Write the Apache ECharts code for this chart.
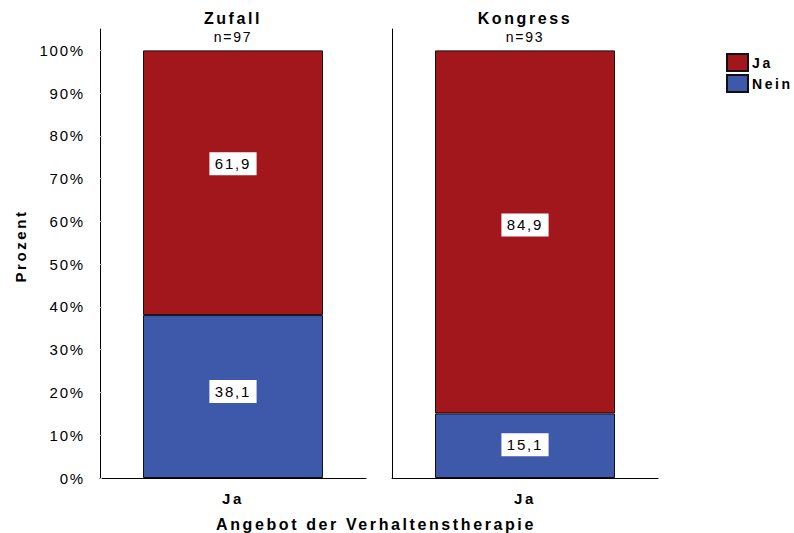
<!DOCTYPE html>
<html>
<head>
<meta charset="utf-8">
<script src="https://cdn.jsdelivr.net/npm/echarts@6/dist/echarts.min.js"></script>
<style>
  html, body { margin: 0; padding: 0; background: #fff; }
  #myEcharts { width: 794px; height: 533px; }
  /* the reference uses wide letter spacing everywhere */
  #myEcharts text { letter-spacing: 1.8px; }
  #myEcharts text[style*="bold"] { letter-spacing: 2.6px; }
</style>
</head>
<body>
<div id="myEcharts"></div>
<script>
// data
var panels = ['Zufall', 'Kongress'];
var panelN = ['n=97', 'n=93'];
var categories = ['Ja'];
var jaValues = [61.9, 84.9];
var neinValues = [38.1, 15.1];
var yTicks = [0, 10, 20, 30, 40, 50, 60, 70, 80, 90, 100];

var RED = '#a1171c';
var BLUE = '#3f59aa';
var FONT = '"Liberation Sans", Arial, sans-serif';

// label nudges seen in the reference (px)
var jaOffset = [-19, -7];
var neinOffset = [-5, -1];

var chartDom = document.getElementById('myEcharts');
var myChart = echarts.init(chartDom, null, { renderer: 'svg' });

var gridLeft = [100, 392];
var grid = [], xAxis = [], yAxis = [], series = [], title = [];

panels.forEach(function (name, idx) {
  grid.push({ left: gridLeft[idx], width: 266, top: 29, height: 449 });

  xAxis.push({
    type: 'category',
    data: categories,
    gridIndex: idx,
    axisLine: { lineStyle: { color: '#000', width: 1 } },
    axisTick: { show: false },
    axisLabel: { color: '#000', fontFamily: FONT, fontSize: 15, fontWeight: 'bold', margin: 13 }
  });

  yAxis.push({
    type: 'value',
    gridIndex: idx,
    min: 0,
    max: 105,
    interval: 10,
    splitLine: { show: false },
    axisLine: { show: true, lineStyle: { color: '#000', width: 1 } },
    axisTick: { show: idx === 0, inside: true, length: 2, lineStyle: { color: '#bbb' } },
    axisLabel: {
      show: idx === 0,
      showMaxLabel: false,
      color: '#000',
      fontFamily: FONT,
      fontSize: 15,
      margin: 15,
      formatter: function (v) { return yTicks.indexOf(v) >= 0 ? v + '%' : ''; }
    }
  });

  var labelBase = {
    show: true,
    position: 'inside',
    color: '#000',
    fontFamily: FONT,
    fontSize: 15,
    backgroundColor: '#fff',
    borderWidth: 0,
    textBorderWidth: 0,
    padding: [4, 9, 4, 9],
    formatter: function (p) { return p.value.toFixed(1).replace('.', ','); }
  };

  series.push({
    name: 'Nein',
    type: 'bar',
    stack: 's' + idx,
    xAxisIndex: idx,
    yAxisIndex: idx,
    barWidth: 180,
    itemStyle: { color: BLUE, borderColor: '#111', borderWidth: 1 },
    label: Object.assign({}, labelBase, { offset: [0, neinOffset[idx]] }),
    data: [neinValues[idx]]
  });
  series.push({
    name: 'Ja',
    type: 'bar',
    stack: 's' + idx,
    xAxisIndex: idx,
    yAxisIndex: idx,
    barWidth: 180,
    itemStyle: { color: RED, borderColor: '#111', borderWidth: 1 },
    label: Object.assign({}, labelBase, { offset: [0, jaOffset[idx]] }),
    data: [jaValues[idx]]
  });

  title.push({
    text: name,
    subtext: panelN[idx],
    left: gridLeft[idx] + 133,
    top: 10,
    padding: 0,
    itemGap: 4,
    textAlign: 'center',
    textStyle: { color: '#000', fontFamily: FONT, fontSize: 16, fontWeight: 'bold' },
    subtextStyle: { color: '#000', fontFamily: FONT, fontSize: 14 }
  });
});

var option = {
  animation: false,
  title: title,
  grid: grid,
  xAxis: xAxis,
  yAxis: yAxis,
  series: series,
  legend: {
    data: ['Ja', 'Nein'],
    orient: 'vertical',
    left: 726,
    top: 53,
    padding: 0,
    itemGap: 2,
    itemWidth: 21,
    itemHeight: 17,
    icon: 'rect',
    textStyle: { color: '#000', fontFamily: FONT, fontSize: 14, fontWeight: 'bold', padding: [0, 0, 0, -1] }
  },
  graphic: [
    {
      type: 'text',
      x: 20,
      y: 246,
      rotation: Math.PI / 2,
      style: {
        text: 'Prozent',
        align: 'center',
        verticalAlign: 'middle',
        fill: '#000',
        font: 'bold 15px ' + FONT
      }
    },
    {
      type: 'text',
      x: 376,
      y: 524,
      style: {
        text: 'Angebot der Verhaltenstherapie',
        align: 'center',
        verticalAlign: 'middle',
        fill: '#000',
        font: 'bold 16px ' + FONT
      }
    }
  ]
};
myChart.setOption(option);
</script>
</body>
</html>
